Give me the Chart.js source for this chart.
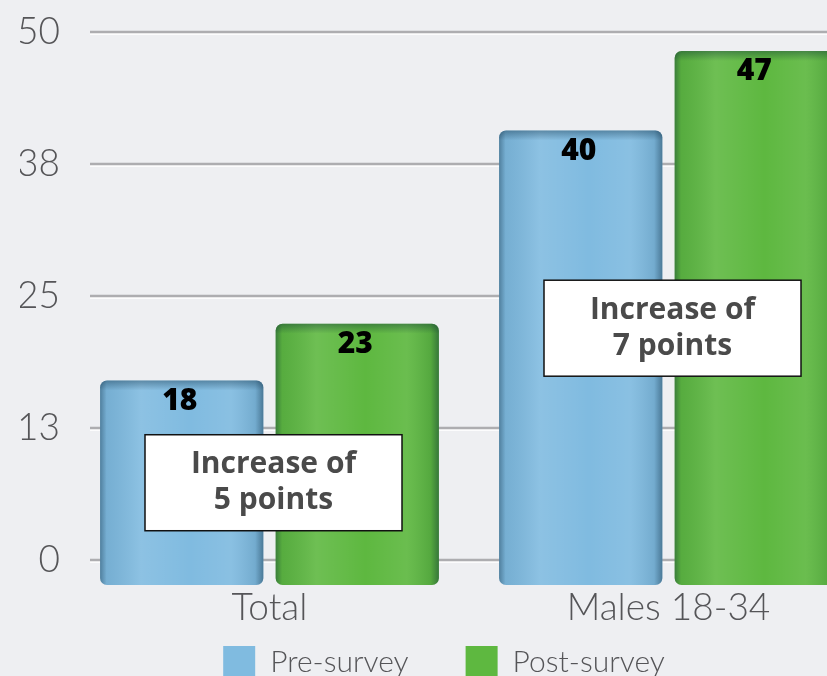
<!DOCTYPE html>
<html>
<head>
<meta charset="utf-8">
<script src="https://cdn.jsdelivr.net/npm/chart.js@4.4.0/dist/chart.umd.min.js"></script>
<style>
  html, body { margin: 0; padding: 0; background: #eeeff2; overflow: hidden; }
  #wrap { width: 868px; height: 688px; position: relative; }
</style>
</head>
<body>
<div id="wrap"><canvas id="survey"></canvas></div>
<script>
const categories = ['Total', 'Males 18-34'];
const preSurvey = [18, 40];
const postSurvey = [23, 47];
const gridTicks = [0, 12.5, 25, 37.5, 50];

const BLUE = '#80bbe0';
const GREEN = '#5eb840';
const LABEL_GREY = '#555558';

// paint the grey rules behind the bars
const gridLines = {
  id: 'gridLines',
  beforeDatasetsDraw(chart) {
    const { ctx, chartArea } = chart;
    const scale = chart.scales.grid;
    ctx.save();
    scale.ticks.forEach(t => {
      const y = Math.round(scale.getPixelForValue(t.value));
      ctx.strokeStyle = 'rgba(255,255,255,0.8)';
      ctx.lineWidth = 2;
      ctx.beginPath();
      ctx.moveTo(chartArea.left + 20, y + 2);
      ctx.lineTo(chartArea.right, y + 2);
      ctx.stroke();
      ctx.strokeStyle = '#adadb0';
      ctx.lineWidth = 2.5;
      ctx.beginPath();
      ctx.moveTo(chartArea.left + 20, y);
      ctx.lineTo(chartArea.right, y);
      ctx.stroke();
    });
    ctx.restore();
  }
};

// rounded edges, value labels and the "increase" call-outs
const barExtras = {
  id: 'barExtras',
  afterDatasetsDraw(chart) {
    const { ctx } = chart;
    ctx.save();
    chart.data.datasets.forEach((ds, di) => {
      chart.getDatasetMeta(di).data.forEach(el => {
        const { x, y, base, width } = el.getProps(['x', 'y', 'base', 'width'], true);
        const left = x - width / 2;
        const g = ctx.createLinearGradient(left, 0, left + width, 0);
        g.addColorStop(0, 'rgba(0,30,50,0.38)');
        g.addColorStop(0.04, 'rgba(0,30,50,0.08)');
        g.addColorStop(0.25, 'rgba(255,255,255,0.10)');
        g.addColorStop(0.55, 'rgba(255,255,255,0.0)');
        g.addColorStop(0.8, 'rgba(255,255,255,0.08)');
        g.addColorStop(0.95, 'rgba(0,30,50,0.10)');
        g.addColorStop(1, 'rgba(0,30,50,0.42)');
        ctx.beginPath();
        ctx.roundRect(left, y, width, base - y, 7);
        ctx.fillStyle = g;
        ctx.fill();
        const v = ctx.createLinearGradient(0, y, 0, y + 10);
        v.addColorStop(0, 'rgba(0,30,50,0.35)');
        v.addColorStop(1, 'rgba(0,30,50,0)');
        ctx.beginPath();
        ctx.roundRect(left, y, width, 10, [7, 7, 0, 0]);
        ctx.fillStyle = v;
        ctx.fill();
      });
    });

    // call-out boxes
    const xs = chart.scales.x, ys = chart.scales.y;
    const levels = [9, 22.6];
    categories.forEach((c, i) => {
      const cx = xs.getPixelForValue(i) + 4;
      const cy = ys.getPixelForValue(levels[i]);
      const w = 257, h = 96;
      ctx.fillStyle = '#ffffff';
      ctx.fillRect(cx - w / 2, cy - h / 2, w, h);
      ctx.strokeStyle = '#111';
      ctx.lineWidth = 1.5;
      ctx.strokeRect(cx - w / 2, cy - h / 2, w, h);
      ctx.fillStyle = '#4a4a4a';
      ctx.font = 'bold 30px "Open Sans"';
      ctx.textAlign = 'center';
      ctx.textBaseline = 'middle';
      ctx.fillText('Increase of', cx, cy - 18);
      ctx.fillText((postSurvey[i] - preSurvey[i]) + ' points', cx, cy + 18);
    });

    // values on top of each bar
    ctx.fillStyle = '#000';
    ctx.font = '800 30px "Open Sans"';
    ctx.textAlign = 'center';
    ctx.textBaseline = 'middle';
    chart.data.datasets.forEach((ds, di) => {
      chart.getDatasetMeta(di).data.forEach((el, i) => {
        const { x, y } = el.getProps(['x', 'y'], true);
        ctx.fillText(ds.data[i], x - 2, y + 21);
      });
    });
    ctx.restore();
  }
};

const labelFont = { family: 'Lato', size: 37, weight: 300 };

new Chart(document.getElementById('survey'), {
  type: 'bar',
  data: {
    labels: categories,
    datasets: [
      { label: 'Pre-survey', data: preSurvey, backgroundColor: BLUE },
      { label: 'Post-survey', data: postSurvey, backgroundColor: GREEN }
    ]
  },
  options: {
    responsive: true,
    maintainAspectRatio: false,
    animation: false,
    layout: { padding: { top: 29, right: 0, left: 20, bottom: 0 } },
    datasets: {
      bar: { barPercentage: 0.93, categoryPercentage: 0.88, borderRadius: 7, borderSkipped: false }
    },
    scales: {
      x: {
        grid: { display: false, drawTicks: false },
        border: { display: false },
        afterFit: s => { s.height = 4; },
        ticks: { color: LABEL_GREY, font: labelFont, mirror: true, padding: -45 }
      },
      y: { display: false, min: 0, max: 48.65 },
      grid: {
        position: 'left',
        min: -2.35,
        max: 50,
        grid: { display: false, drawTicks: false },
        border: { display: false },
        afterBuildTicks: s => { s.ticks = gridTicks.map(v => ({ value: v })); },
        afterFit: s => { s.width = 50; },
        ticks: { callback: v => Math.round(v), padding: 10, color: LABEL_GREY, font: labelFont }
      }
    },
    plugins: {
      tooltip: { enabled: false },
      legend: {
        position: 'bottom',
        labels: {
          boxWidth: 32, boxHeight: 32, padding: 57,
          color: LABEL_GREY,
          font: { family: 'Lato', size: 30, weight: 300 }
        }
      }
    }
  },
  plugins: [gridLines, barExtras]
});
</script>
</body>
</html>
